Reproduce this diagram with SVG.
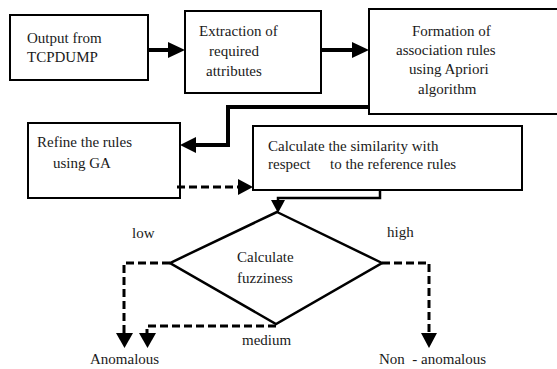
<svg xmlns="http://www.w3.org/2000/svg" width="557" height="369" viewBox="0 0 557 369">
<style>
  .box { fill: #fff; stroke: #000; stroke-width: 2; }
  .t { font-family: "Liberation Serif", "Times New Roman", serif; font-size: 15px; fill: #1a1a1a; }
  .solid { fill: none; stroke: #000; stroke-width: 4; }
  .thin { fill: none; stroke: #000; stroke-width: 2.5; }
  .dash { fill: none; stroke: #000; stroke-width: 3; stroke-dasharray: 8 4; }
  .head { fill: #000; }
</style>
<rect width="557" height="369" fill="#fff"/>
<g id="n1">
  <rect class="box" x="10" y="15" width="138" height="65"/>
  <text class="t" x="27" y="43">Output from</text>
  <text class="t" x="27" y="62">TCPDUMP</text>
</g>
<g id="n2">
  <rect class="box" x="185" y="11" width="136" height="82"/>
  <text class="t" x="199" y="36">Extraction of</text>
  <text class="t" x="209" y="56">required</text>
  <text class="t" x="206" y="76">attributes</text>
</g>
<g id="n3">
  <rect class="box" x="369" y="9" width="200" height="105"/>
  <text class="t" x="412" y="36">Formation of</text>
  <text class="t" x="396" y="55">association rules</text>
  <text class="t" x="409" y="74">using Apriori</text>
  <text class="t" x="418" y="94">algorithm</text>
</g>
<g id="n4">
  <rect class="box" x="28" y="123" width="152" height="75"/>
  <text class="t" x="37" y="147">Refine the rules</text>
  <text class="t" x="53" y="168">using GA</text>
</g>
<g id="n5">
  <rect class="box" x="253" y="126" width="269" height="64"/>
  <text class="t" x="268" y="151">Calculate the similarity with</text>
  <text class="t" x="268" y="169">respect<tspan x="330">to the reference rules</tspan></text>
</g>
<g id="n6">
  <polygon points="277,212 382,263 276,324 170,263" fill="#fff" stroke="#000" stroke-width="2.5"/>
  <text class="t" x="237" y="262">Calculate</text>
  <text class="t" x="237" y="283">fuzziness</text>
</g>
<g id="labels">
  <text class="t" x="132" y="238">low</text>
  <text class="t" x="387" y="237">high</text>
  <text class="t" x="242" y="345">medium</text>
  <text class="t" x="90" y="364">Anomalous</text>
  <text class="t" x="379" y="364" xml:space="preserve">Non  - anomalous</text>
</g>
<g id="connectors">
  <line class="solid" x1="148" y1="50" x2="170" y2="50"/>
  <polygon class="head" points="168,42 185,50 168,58"/>
  <line class="solid" x1="321" y1="50" x2="354" y2="50"/>
  <polygon class="head" points="352,42 369,50 352,58"/>
  <polyline class="solid" points="369,107 228,107 228,145 194,145"/>
  <polygon class="head" points="196,137 180,145 196,153"/>
  <line class="dash" x1="177" y1="187" x2="240" y2="187"/>
  <polygon class="head" points="238,179 253,187 238,195"/>
  <polyline class="thin" points="380,190 380,198 278,198 278,203"/>
  <polygon class="head" points="271,200 285,200 278,213"/>
  <polyline class="dash" points="170,263 124,263 124,336"/>
  <polygon class="head" points="116,333 133,333 124.5,348"/>
  <polyline class="dash" points="276,326 147,326 147,336"/>
  <polygon class="head" points="139,333 156,333 147.5,348"/>
  <polyline class="dash" points="382,263 429,263 429,336"/>
  <polygon class="head" points="421,333 437,333 429,348"/>
</g>
</svg>
